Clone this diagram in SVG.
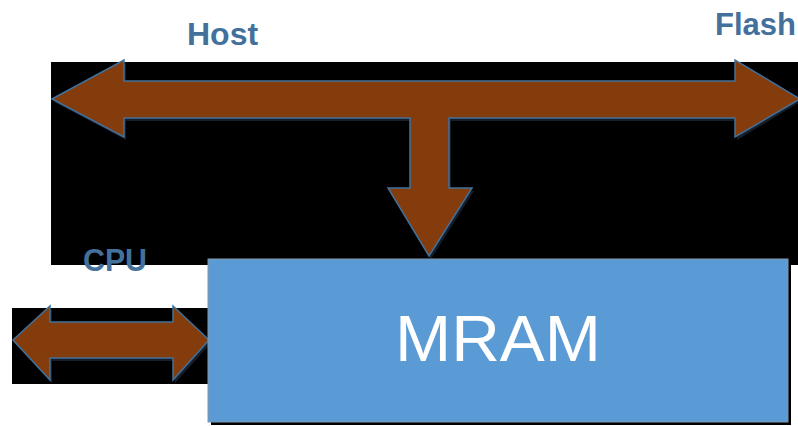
<svg xmlns="http://www.w3.org/2000/svg" width="798" height="426" viewBox="0 0 798 426">
<style>
.lbl{font-family:"Liberation Sans",Arial,sans-serif;font-weight:bold;font-size:32px;fill:#44709C}
.arrow{fill:#843C0C;stroke:#41719C;stroke-width:1.5;stroke-linejoin:miter}
.shadow{fill:#1a2633;opacity:0.8}
</style>
<rect x="0" y="0" width="798" height="426" fill="#ffffff"/>
<g id="backdrop-top"><rect x="51" y="62" width="747" height="203" fill="#000000"/></g>
<g id="backdrop-cpu"><rect x="12" y="308" width="196" height="76" fill="#000000"/></g>
<g id="connectors">
  <g id="bus-arrow">
    <path class="shadow" transform="translate(2,3)" d="M52,99 L124,60 L124,81 L735,81 L735,60 L798,99 L735,137 L735,118 L449,118 L449,188 L472,188 L429,256 L388,188 L410,188 L410,118 L124,118 L124,137 Z"/>
    <path class="arrow" d="M52,99 L124,60 L124,81 L735,81 L735,60 L800,99 L735,137 L735,118 L449,118 L449,188 L472,188 L429,256 L388,188 L410,188 L410,118 L124,118 L124,137 Z"/>
  </g>
  <g id="cpu-arrow">
    <path class="shadow" transform="translate(2,3)" d="M13,340 L50,306 L50,322 L173,322 L173,306 L209,340 L173,380 L173,358 L50,358 L50,380 Z"/>
    <path class="arrow" d="M13,340 L50,306 L50,322 L173,322 L173,306 L209,340 L173,380 L173,358 L50,358 L50,380 Z"/>
  </g>
</g>
<g id="mram">
  <rect x="211" y="262" width="580" height="163" fill="#000000"/>
  <rect x="208" y="259" width="580" height="163" fill="#5B9BD5" stroke="#8497A8" stroke-width="1"/>
  <text x="498" y="361" text-anchor="middle" font-family="Liberation Sans, Arial, sans-serif" font-size="64" fill="#ffffff" textLength="206" lengthAdjust="spacingAndGlyphs">MRAM</text>
</g>
<g id="host"><text class="lbl" x="187" y="45">Host</text></g>
<g id="flash"><text class="lbl" x="715" y="35" font-size="31" style="font-size:31px">Flash</text></g>
<g id="cpu"><text class="lbl" x="83" y="271" textLength="64" lengthAdjust="spacingAndGlyphs">CPU</text></g>
</svg>
